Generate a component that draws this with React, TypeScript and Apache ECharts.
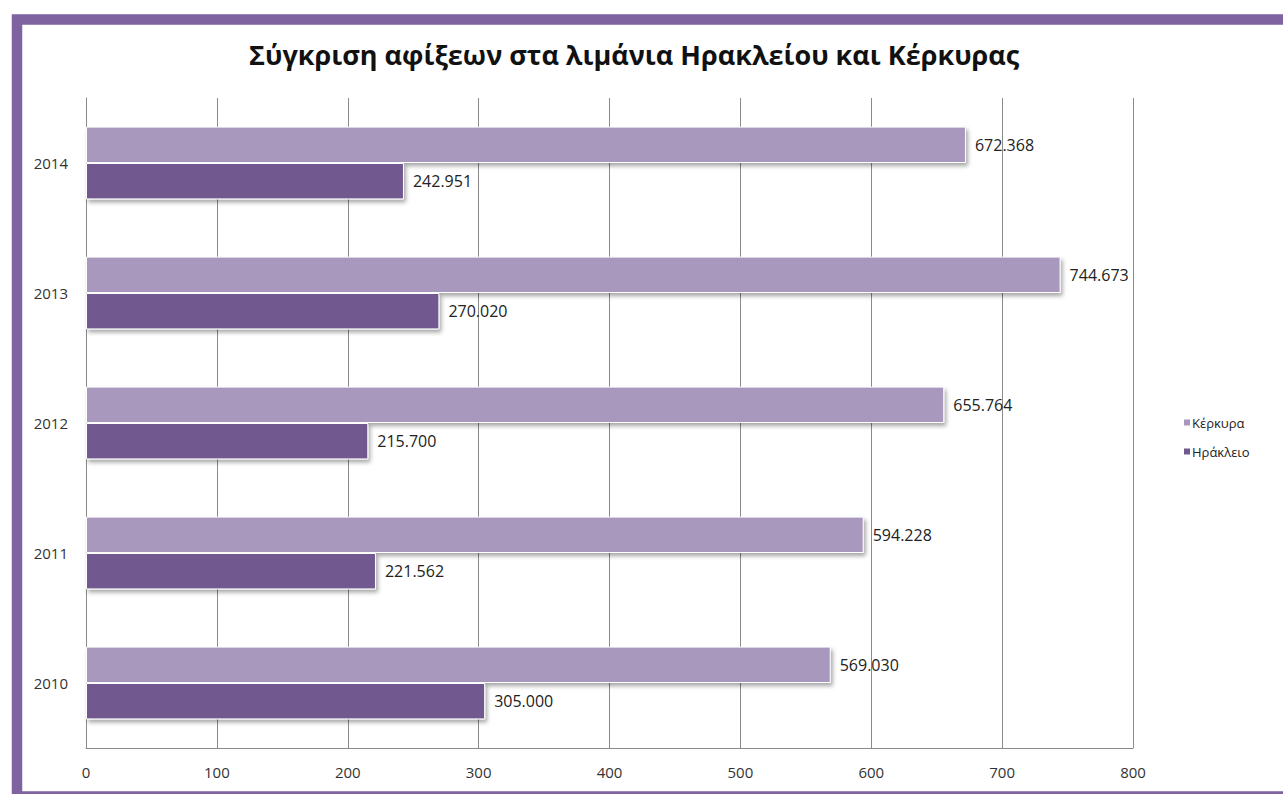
import React, { useEffect, useRef } from "react";
import * as echarts from "echarts";

const years = ["2010", "2011", "2012", "2013", "2014"];
const kerkyra = [569.03, 594.228, 655.764, 744.673, 672.368];
const heraklion = [305.0, 221.562, 215.7, 270.02, 242.951];
const xTicks = { min: 0, max: 800, interval: 100 };
const titleText = "Σύγκριση αφίξεων στα λιμάνια Ηρακλείου και Κέρκυρας";
const seriesNames = ["Κέρκυρα", "Ηράκλειο"];

const FONT = "'Open Sans', 'Noto Sans', sans-serif";

export default function App() {
  const ref = useRef<HTMLDivElement>(null);
  useEffect(() => {
    document.body.style.margin = "0";
    const chart = echarts.init(ref.current!, undefined, { renderer: "svg" });
    const fmt = (p: any) => Number(p.value).toFixed(3);
    const barShadow = {
      borderColor: "#ffffff",
      borderWidth: 1,
      shadowColor: "rgba(0,0,0,0.35)",
      shadowBlur: 4,
      shadowOffsetX: 2,
      shadowOffsetY: 3,
    };
    const labelStyle = { show: true, position: "right", distance: 9, formatter: fmt, fontFamily: FONT, fontSize: 16, color: "#222222" };
    chart.setOption({
      animation: false,
      backgroundColor: "#ffffff",
      graphic: [
        {
          type: "rect",
          z: -10,
          shape: { x: 17, y: 19.5, width: 1280, height: 777 },
          style: { fill: "#ffffff", stroke: "#7f62a0", lineWidth: 10.5 },
          silent: true,
        },
      ],
      title: {
        text: titleText,
        left: 244,
        top: 36,
        textStyle: { fontFamily: FONT, fontWeight: "bold", fontSize: 27, color: "#111111" },
      },
      legend: {
        data: seriesNames,
        orient: "vertical",
        left: 1177,
        top: 411,
        itemWidth: 8,
        itemHeight: 8,
        itemGap: 16,
        icon: "rect",
        textStyle: { fontFamily: FONT, fontSize: 13, color: "#222222", padding: [0, 0, 0, -4] },
      },
      grid: { left: 86, right: 150, top: 98, bottom: 46, containLabel: false },
      xAxis: {
        type: "value",
        min: xTicks.min,
        max: xTicks.max,
        interval: xTicks.interval,
        axisLine: { show: true, lineStyle: { color: "#8a8a8a", width: 1 } },
        axisTick: { show: false },
        splitLine: { show: true, lineStyle: { color: "#8a8a8a", width: 1 } },
        axisLabel: { fontFamily: FONT, fontSize: 15, color: "#333333", margin: 16 },
      },
      yAxis: {
        type: "category",
        data: years,
        axisLine: { show: true, lineStyle: { color: "#8a8a8a", width: 1 } },
        axisTick: { show: false },
        axisLabel: { fontFamily: FONT, fontSize: 15, color: "#333333", margin: 18 },
      },
      series: [
        {
          name: seriesNames[0],
          type: "bar",
          data: kerkyra,
          barGap: "0%",
          barCategoryGap: "44%",
          itemStyle: { color: "#a898bd", ...barShadow },
          label: labelStyle,
        },
        {
          name: seriesNames[1],
          type: "bar",
          data: heraklion,
          barGap: "0%",
          barCategoryGap: "44%",
          itemStyle: { color: "#71588f", ...barShadow },
          label: labelStyle,
        },
      ],
    });
    return () => chart.dispose();
  }, []);
  return <div ref={ref} style={{ position: "absolute", left: 0, top: 0, width: 1283, height: 794 }} />;
}
